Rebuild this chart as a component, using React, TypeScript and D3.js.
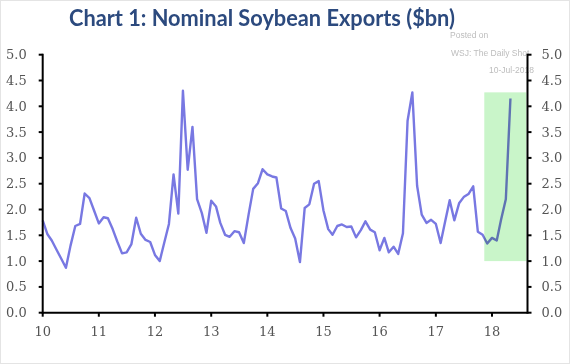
import React from "react";
import * as d3 from "d3";

const TITLE = "Chart 1: Nominal Soybean Exports ($bn)";
const NOTE_LINES = ["Posted on", "WSJ: The Daily Shot", "10-Jul-2018"];
const START_YEAR = 2010;
// Monthly exports, $bn, Jan 2010 .. May 2018
const exportsBn: number[] = [
  1.79, 1.52, 1.40, 1.22, 1.05, 0.87, 1.30, 1.68, 1.72, 2.31, 2.22, 1.98,
  1.73, 1.85, 1.83, 1.62, 1.38, 1.15, 1.17, 1.33, 1.84, 1.53, 1.41, 1.37,
  1.12, 1.00, 1.35, 1.72, 2.68, 1.92, 4.30, 2.77, 3.60, 2.20, 1.93, 1.55,
  2.17, 2.06, 1.74, 1.51, 1.47, 1.58, 1.56, 1.35, 1.90, 2.40, 2.51, 2.78,
  2.68, 2.64, 2.62, 2.02, 1.97, 1.64, 1.44, 0.98, 2.03, 2.10, 2.50, 2.55,
  1.98, 1.62, 1.51, 1.68, 1.71, 1.66, 1.67, 1.46, 1.60, 1.77, 1.61, 1.56,
  1.21, 1.45, 1.17, 1.28, 1.14, 1.54, 3.72, 4.27, 2.46, 1.90, 1.74, 1.80,
  1.72, 1.35, 1.75, 2.18, 1.79, 2.12, 2.24, 2.30, 2.45, 1.57, 1.51, 1.34,
  1.45, 1.40, 1.80, 2.20, 4.15,
];
const yearTicks = [10, 11, 12, 13, 14, 15, 16, 17, 18];
const yTicks = [0, 0.5, 1, 1.5, 2, 2.5, 3, 3.5, 4, 4.5, 5];
// Highlight box: from mid-Nov 2017 to mid-Aug 2018, 1.0 to 4.27
const highlightX = [new Date(2017, 10, 12), new Date(2018, 7, 12)];
const highlightY = [1.0, 4.27];

export default function App() {
  const W = 570, H = 364;
  const x = d3.scaleTime()
    .domain([new Date(START_YEAR, 0, 1), new Date(2018, 7, 20)])
    .range([42.7, 527.5]);
  const y = d3.scaleLinear().domain([0, 5]).range([312.7, 54.7]);
  const data = exportsBn.map((v, i) => ({ d: new Date(START_YEAR, i, 1), v }));
  const line = d3.line<{ d: Date; v: number }>().x(p => x(p.d)).y(p => y(p.v));
  const x0 = x.range()[0], x1 = x.range()[1], y0 = y(0), yTop = y(5);
  const tickFont = "'DejaVu Serif', serif";

  return (
    <svg width={W} height={H} style={{ position: "absolute", left: 0, top: 0, background: "#fff" }}>
      <rect x={0.5} y={0.5} width={W - 1} height={H - 1} fill="#fff" stroke="#e4e4e4" />
      <text x={262} y={26} textAnchor="middle" fontFamily="Lato, 'Open Sans', sans-serif"
        fontWeight={700} fontSize={23} fill="#2c4a7e" textLength={386} lengthAdjust="spacingAndGlyphs">
        {TITLE}
      </text>
      <g fontFamily="'Liberation Sans', Arial, sans-serif" fontSize={8.5} fill="#bdbdbd">
        <text x={450} y={38}>{NOTE_LINES[0]}</text>
        <text x={451} y={56}>{NOTE_LINES[1]}</text>
        <text x={489} y={73}>{NOTE_LINES[2]}</text>
      </g>
      <path d={line(data) || ""} fill="none" stroke="#7878e2" strokeWidth={2.4} strokeLinejoin="round" />
      <rect x={x(highlightX[0])} y={y(highlightY[1])} width={x(highlightX[1]) - x(highlightX[0])}
        height={y(highlightY[0]) - y(highlightY[1])} fill="#c9f5c9" style={{ mixBlendMode: "multiply" }} />
      {/* axes */}
      <g stroke="#000" strokeWidth={2} fill="none">
        <line x1={x0} x2={x0} y1={yTop - 1} y2={y0 + 1} />
        <line x1={x1} x2={x1} y1={yTop - 1} y2={y0 + 1} />
        <line x1={x0} x2={x1} y1={y0} y2={y0} />
        {yTicks.map(t => (
          <g key={t}>
            <line x1={x0 - 4} x2={x0} y1={y(t)} y2={y(t)} />
            <line x1={x1} x2={x1 + 4} y1={y(t)} y2={y(t)} />
          </g>
        ))}
        {yearTicks.map(t => (
          <line key={t} x1={x(new Date(2000 + t, 0, 1))} x2={x(new Date(2000 + t, 0, 1))} y1={y0} y2={y0 + 4} />
        ))}
      </g>
      <g fontFamily={tickFont} fontSize={13} fill="#555">
        {yTicks.map(t => (
          <g key={t}>
            <text x={x0 - 16} y={y(t) + 4.5} textAnchor="end">{t.toFixed(1)}</text>
            <text x={x1 + 14} y={y(t) + 4.5} textAnchor="start">{t.toFixed(1)}</text>
          </g>
        ))}
        {yearTicks.map(t => (
          <text key={t} x={x(new Date(2000 + t, 0, 1))} y={336} textAnchor="middle">{t}</text>
        ))}
      </g>
    </svg>
  );
}
